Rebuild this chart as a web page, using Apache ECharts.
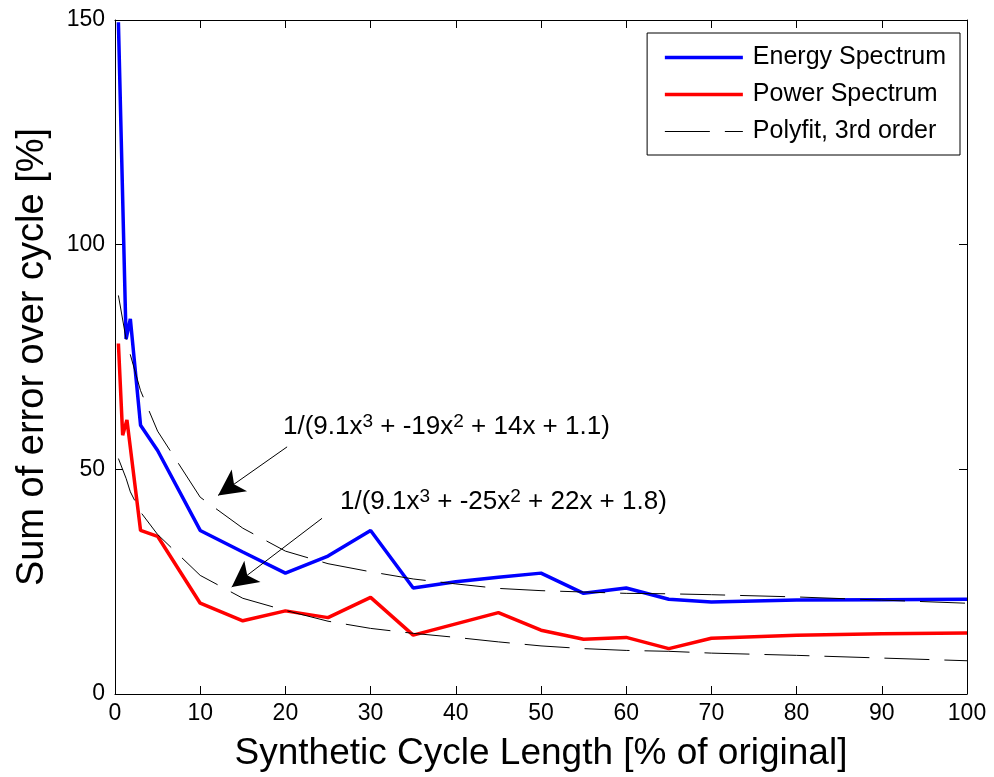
<!DOCTYPE html>
<html>
<head>
<meta charset="utf-8">
<title>Sum of error over cycle</title>
<script src="https://cdn.jsdelivr.net/npm/echarts@6/dist/echarts.min.js"></script>
<style>
  html, body { margin: 0; padding: 0; background: #fff; }
  #chart { width: 994px; height: 777px; }
</style>
</head>
<body>
<div id="chart"></div>
<script>
// values
const energyX = [0.4, 1.3, 1.8, 3, 5, 10, 15, 20, 25, 30, 35, 40, 45, 50, 55, 60, 65, 70, 80, 90, 100];
const energyY = [149.5, 79, 83.5, 59.8, 54.2, 36.4, 31.6, 26.9, 30.7, 36.4, 23.6, 25.0, 26.0, 26.9, 22.4, 23.6, 21.1, 20.5, 20.9, 21.0, 21.1];

const powerX = [0.4, 0.9, 1.4, 3, 5, 10, 15, 20, 25, 30, 35, 40, 45, 50, 55, 60, 65, 70, 80, 90, 100];
const powerY = [78, 57.6, 61, 36.4, 35.1, 20.2, 16.3, 18.5, 17.0, 21.5, 13.1, 15.6, 18.1, 14.2, 12.2, 12.6, 10.1, 12.4, 13.1, 13.4, 13.6];

// polyfit curves
const fitX = [0.4, 1.3, 1.8, 3, 5, 10, 15, 20, 25, 30, 35, 40, 45, 50, 55, 60, 65, 70, 80, 90, 100];
const fitEnergyY = [88.7, 79, 75.5, 67.5, 58.5, 43.8, 36.9, 31.8, 29.0, 27.2, 25.6, 24.5, 23.5, 23.0, 22.7, 22.4, 22.3, 22.1, 21.6, 20.9, 20.2];
const fitPowerY = [52.4, 48, 45, 40.5, 35.5, 26.4, 21.3, 18.6, 16.2, 14.6, 13.5, 12.6, 11.6, 10.7, 10.1, 9.7, 9.5, 9.1, 8.6, 8.0, 7.4];

// annotation arrows: [tail, tip]
const arrowEnergy = [[20.2, 55], [12.1, 44.2]];
const arrowPower = [[24.3, 39.1], [13.7, 23.8]];

const FONT = 'Liberation Sans, Arial, Helvetica, sans-serif';

function pairs(xs, ys) {
  return xs.map((x, i) => [x, ys[i]]);
}

const chart = echarts.init(document.getElementById('chart'));

const tickStyle = { show: true, inside: true, length: 8, lineStyle: { color: '#000', width: 1 } };
const axisLine = { show: true, onZero: false, lineStyle: { color: '#000', width: 1 } };
const supStyle = { fontSize: 19, lineHeight: 19, verticalAlign: 'top', fill: '#000', fontFamily: FONT };

const option = {
  animation: false,
  backgroundColor: '#fff',
  grid: { left: 115, right: 27, top: 20, bottom: 83 },
  legend: {
    orient: 'vertical',
    right: 34,
    top: 33,
    padding: [12, 14, 11, 16],
    itemGap: 12,
    itemWidth: 78,
    itemHeight: 25,
    backgroundColor: '#fff',
    borderColor: '#000',
    borderWidth: 1,
    borderRadius: 0,
    itemStyle: { opacity: 0 },
    lineStyle: { width: 'inherit' },
    textStyle: { fontFamily: FONT, fontSize: 25, color: '#000', padding: [0, 0, 0, 5] },
    data: ['Energy Spectrum', 'Power Spectrum', 'Polyfit, 3rd order'],
  },
  xAxis: [
    {
      type: 'value',
      min: 0,
      max: 100,
      interval: 10,
      name: 'Synthetic Cycle Length [% of original]',
      nameLocation: 'middle',
      nameGap: 41,
      nameTextStyle: { fontFamily: FONT, fontSize: 37, color: '#000' },
      axisLine: axisLine,
      axisTick: tickStyle,
      axisLabel: { fontFamily: FONT, fontSize: 23, color: '#000', margin: 8 },
      splitLine: { show: false },
    },
    {
      type: 'value',
      position: 'top',
      min: 0,
      max: 100,
      interval: 10,
      axisLine: axisLine,
      axisTick: tickStyle,
      axisLabel: { show: false },
      splitLine: { show: false },
    },
  ],
  yAxis: [
    {
      type: 'value',
      min: 0,
      max: 150,
      interval: 50,
      name: 'Sum of error over cycle [%]',
      nameLocation: 'middle',
      nameGap: 63,
      nameTextStyle: { fontFamily: FONT, fontSize: 38, color: '#000' },
      axisLine: axisLine,
      axisTick: tickStyle,
      axisLabel: { fontFamily: FONT, fontSize: 23, color: '#000', margin: 10 },
      splitLine: { show: false },
    },
    {
      type: 'value',
      position: 'right',
      min: 0,
      max: 150,
      interval: 50,
      axisLine: axisLine,
      axisTick: tickStyle,
      axisLabel: { show: false },
      splitLine: { show: false },
    },
  ],
  series: [
    {
      name: 'Energy Spectrum',
      type: 'line',
      data: pairs(energyX, energyY),
      symbol: 'none',
      color: '#0000ff',
      lineStyle: { color: '#0000ff', width: 3.5 },
      z: 3,
    },
    {
      name: 'Power Spectrum',
      type: 'line',
      data: pairs(powerX, powerY),
      symbol: 'none',
      color: '#ff0000',
      lineStyle: { color: '#ff0000', width: 3.5 },
      z: 3,
    },
    {
      name: 'Polyfit, 3rd order',
      type: 'line',
      data: pairs(fitX, fitEnergyY),
      symbol: 'none',
      color: '#000',
      lineStyle: { color: '#000', width: 1, type: [45, 15] },
      z: 4,
      markLine: {
        silent: true,
        symbol: ['none', 'arrow'],
        symbolSize: [20, 26],
        label: { show: false },
        lineStyle: { color: '#000', width: 1, type: 'solid' },
        data: [
          [{ coord: arrowEnergy[0] }, { coord: arrowEnergy[1] }],
          [{ coord: arrowPower[0] }, { coord: arrowPower[1] }],
        ],
      },
    },
    {
      name: 'Polyfit, 3rd order',
      type: 'line',
      data: pairs(fitX, fitPowerY),
      symbol: 'none',
      color: '#000',
      lineStyle: { color: '#000', width: 1, type: [45, 15] },
      z: 4,
    },
  ],
  graphic: [
    {
      type: 'text',
      left: 283,
      top: 412,
      style: {
        text: '1/(9.1x{s|3} + -19x{s|2} + 14x + 1.1)',
        font: '26px ' + FONT,
        fill: '#000',
        lineHeight: 30,
        rich: { s: supStyle },
      },
    },
    {
      type: 'text',
      left: 340,
      top: 487,
      style: {
        text: '1/(9.1x{s|3} + -25x{s|2} + 22x + 1.8)',
        font: '26px ' + FONT,
        fill: '#000',
        lineHeight: 30,
        rich: { s: supStyle },
      },
    },
  ],
};

chart.setOption(option);
</script>
</body>
</html>
